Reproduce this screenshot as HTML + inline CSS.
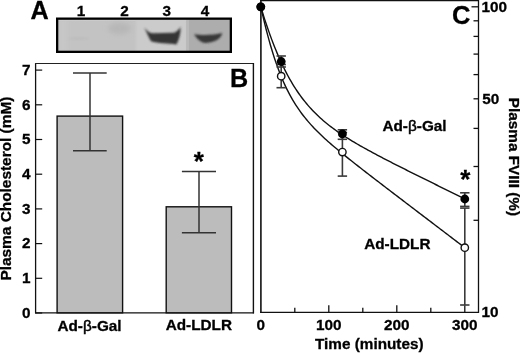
<!DOCTYPE html>
<html><head><meta charset="utf-8"><style>
html,body{margin:0;padding:0;background:#fff;}
body{width:520px;height:353px;overflow:hidden;font-family:"Liberation Sans",sans-serif;}
svg{display:block;will-change:transform;}
</style></head><body>
<svg width="520" height="353" viewBox="0 0 520 353">
<text x="30.6" y="18.5" font-family="Liberation Sans" font-weight="bold" stroke="#000" stroke-width="0.3" font-size="25.2">A</text>
<text x="81" y="16.1" font-family="Liberation Sans" font-weight="bold" stroke="#000" stroke-width="0.3" font-size="15.3" text-anchor="middle">1</text>
<text x="124.5" y="16.1" font-family="Liberation Sans" font-weight="bold" stroke="#000" stroke-width="0.3" font-size="15.3" text-anchor="middle">2</text>
<text x="166.7" y="16.1" font-family="Liberation Sans" font-weight="bold" stroke="#000" stroke-width="0.3" font-size="15.3" text-anchor="middle">3</text>
<text x="205" y="16.1" font-family="Liberation Sans" font-weight="bold" stroke="#000" stroke-width="0.3" font-size="15.3" text-anchor="middle">4</text>
<defs>
<filter id="bl1" x="-50%" y="-50%" width="200%" height="200%"><feGaussianBlur stdDeviation="0.9"/></filter>
<filter id="bl2" x="-50%" y="-50%" width="200%" height="200%"><feGaussianBlur stdDeviation="2.5"/></filter>
<clipPath id="blotclip"><rect x="57" y="19" width="174" height="33"/></clipPath>
</defs>
<g clip-path="url(#blotclip)">
<rect x="57" y="19" width="174" height="33" fill="#c3c3c3"/>
<rect x="59" y="19" width="8" height="33" fill="#c7c7c7" filter="url(#bl2)"/>
<rect x="57" y="19.5" width="130" height="1.4" fill="#cdcdcd"/>
<rect x="136" y="19" width="50.5" height="33" fill="#cbcbcb" filter="url(#bl1)"/>
<rect x="186.5" y="19" width="46" height="33" fill="#adadad"/>
<rect x="186.5" y="19" width="2.5" height="33" fill="#b9b9b9"/>
<ellipse cx="119.5" cy="28.5" rx="11.5" ry="6" fill="#b7b7b7" filter="url(#bl2)"/>
<ellipse cx="79" cy="38.5" rx="11" ry="1.2" fill="#bbbbbb" filter="url(#bl1)"/>
<path d="M144.3,27.7 C147,30.5 149,33 152.5,33.3 L174,32.8 C177,31.5 179,29.5 180.4,26.7 C181,32 179.5,38.5 176.5,44.5 C168,43.5 158,43.3 151,41.3 C148.5,37 146.5,32 144.3,27.7 Z" fill="#353535" filter="url(#bl1)"/>
<path d="M194,34.3 C202,35.6 214,35.3 222.3,33.1 C221.5,38.6 214.5,42.8 206,42.9 C200.5,42.8 197,39 194,34.3 Z" fill="#383838" filter="url(#bl1)"/>
</g>
<rect x="57.15" y="18.65" width="173.7" height="33.2" fill="none" stroke="#000" stroke-width="2.3"/>
<line x1="35.6" y1="63" x2="35.6" y2="313.4" stroke="#111" stroke-width="1.3"/>
<line x1="35" y1="63.5" x2="254" y2="63.5" stroke="#222" stroke-width="1.2"/>
<line x1="253.4" y1="63" x2="253.4" y2="313.4" stroke="#111" stroke-width="1.4"/>
<line x1="35" y1="312.8" x2="254" y2="312.8" stroke="#111" stroke-width="1.3"/>
<line x1="35.6" y1="313.0" x2="42.2" y2="313.0" stroke="#111" stroke-width="1.2"/>
<text x="30.6" y="317.8" font-family="Liberation Sans" font-weight="bold" stroke="#000" stroke-width="0.3" font-size="15.3" text-anchor="end">0</text>
<line x1="35.6" y1="278.3" x2="42.2" y2="278.3" stroke="#111" stroke-width="1.2"/>
<text x="30.6" y="283.1" font-family="Liberation Sans" font-weight="bold" stroke="#000" stroke-width="0.3" font-size="15.3" text-anchor="end">1</text>
<line x1="35.6" y1="243.6" x2="42.2" y2="243.6" stroke="#111" stroke-width="1.2"/>
<text x="30.6" y="248.4" font-family="Liberation Sans" font-weight="bold" stroke="#000" stroke-width="0.3" font-size="15.3" text-anchor="end">2</text>
<line x1="35.6" y1="208.9" x2="42.2" y2="208.9" stroke="#111" stroke-width="1.2"/>
<text x="30.6" y="213.7" font-family="Liberation Sans" font-weight="bold" stroke="#000" stroke-width="0.3" font-size="15.3" text-anchor="end">3</text>
<line x1="35.6" y1="174.2" x2="42.2" y2="174.2" stroke="#111" stroke-width="1.2"/>
<text x="30.6" y="179.0" font-family="Liberation Sans" font-weight="bold" stroke="#000" stroke-width="0.3" font-size="15.3" text-anchor="end">4</text>
<line x1="35.6" y1="139.5" x2="42.2" y2="139.5" stroke="#111" stroke-width="1.2"/>
<text x="30.6" y="144.3" font-family="Liberation Sans" font-weight="bold" stroke="#000" stroke-width="0.3" font-size="15.3" text-anchor="end">5</text>
<line x1="35.6" y1="104.8" x2="42.2" y2="104.8" stroke="#111" stroke-width="1.2"/>
<text x="30.6" y="109.6" font-family="Liberation Sans" font-weight="bold" stroke="#000" stroke-width="0.3" font-size="15.3" text-anchor="end">6</text>
<line x1="35.6" y1="70.1" x2="42.2" y2="70.1" stroke="#111" stroke-width="1.2"/>
<text x="30.6" y="74.9" font-family="Liberation Sans" font-weight="bold" stroke="#000" stroke-width="0.3" font-size="15.3" text-anchor="end">7</text>
<rect x="57.1" y="116.1" width="65.5" height="196.7" fill="#bcbcbc" stroke="#111" stroke-width="1.4"/>
<rect x="166.2" y="206.8" width="65.3" height="106.0" fill="#bcbcbc" stroke="#111" stroke-width="1.4"/>
<g stroke="#333" stroke-width="1.5" fill="none">
<line x1="90" y1="73.1" x2="90" y2="150.8"/><line x1="73" y1="73.1" x2="106.7" y2="73.1"/><line x1="73" y1="150.8" x2="106.7" y2="150.8"/>
<line x1="199" y1="171.6" x2="199" y2="232.8"/><line x1="181.9" y1="171.6" x2="216" y2="171.6"/><line x1="181.9" y1="232.8" x2="216" y2="232.8"/>
</g>
<text x="198.8" y="169.7" font-family="Liberation Sans" font-weight="bold" stroke="#000" stroke-width="0.3" font-size="26" text-anchor="middle">*</text>
<text x="230" y="87.4" font-family="Liberation Sans" font-weight="bold" stroke="#000" stroke-width="0.3" font-size="25.2">B</text>
<text x="89.5" y="330.8" font-family="Liberation Sans" font-weight="bold" stroke="#000" stroke-width="0.3" font-size="15.3" text-anchor="middle">Ad-<tspan font-weight="normal" stroke-width="0.5">β</tspan>-Gal</text>
<text x="198.8" y="329.6" font-family="Liberation Sans" font-weight="bold" stroke="#000" stroke-width="0.3" font-size="15.3" text-anchor="middle">Ad-LDLR</text>
<text transform="translate(11.1,188.6) rotate(-90)" font-family="Liberation Sans" font-weight="bold" stroke="#000" stroke-width="0.3" font-size="15.4" text-anchor="middle">Plasma Cholesterol (mM)</text>
<path d="M260.2,0.6 H478.5 V312.3 H260.2" fill="none" stroke="#111" stroke-width="1.3"/>
<line x1="260.9" y1="0" x2="260.9" y2="313" stroke="#111" stroke-width="1.6"/>
<line x1="294.8" y1="312.3" x2="294.8" y2="307.8" stroke="#111" stroke-width="1.3"/>
<line x1="328.8" y1="312.3" x2="328.8" y2="305.3" stroke="#111" stroke-width="1.3"/>
<line x1="362.8" y1="312.3" x2="362.8" y2="307.8" stroke="#111" stroke-width="1.3"/>
<line x1="396.8" y1="312.3" x2="396.8" y2="305.3" stroke="#111" stroke-width="1.3"/>
<line x1="430.8" y1="312.3" x2="430.8" y2="307.8" stroke="#111" stroke-width="1.3"/>
<line x1="464.8" y1="312.3" x2="464.8" y2="305.3" stroke="#111" stroke-width="1.3"/>
<text x="260.8" y="330" font-family="Liberation Sans" font-weight="bold" stroke="#000" stroke-width="0.3" font-size="15.3" text-anchor="middle">0</text>
<text x="328.8" y="330" font-family="Liberation Sans" font-weight="bold" stroke="#000" stroke-width="0.3" font-size="15.3" text-anchor="middle">100</text>
<text x="396.8" y="330" font-family="Liberation Sans" font-weight="bold" stroke="#000" stroke-width="0.3" font-size="15.3" text-anchor="middle">200</text>
<text x="464.8" y="330" font-family="Liberation Sans" font-weight="bold" stroke="#000" stroke-width="0.3" font-size="15.3" text-anchor="middle">300</text>
<text x="369.3" y="349" font-family="Liberation Sans" font-weight="bold" stroke="#000" stroke-width="0.3" font-size="15.3" text-anchor="middle">Time (minutes)</text>
<line x1="478.5" y1="220.3" x2="473.5" y2="220.3" stroke="#111" stroke-width="1.3"/>
<line x1="478.5" y1="166.5" x2="473.5" y2="166.5" stroke="#111" stroke-width="1.3"/>
<line x1="478.5" y1="128.4" x2="473.5" y2="128.4" stroke="#111" stroke-width="1.3"/>
<line x1="478.5" y1="98.8" x2="473.5" y2="98.8" stroke="#111" stroke-width="1.3"/>
<line x1="478.5" y1="74.6" x2="473.5" y2="74.6" stroke="#111" stroke-width="1.3"/>
<line x1="478.5" y1="54.1" x2="473.5" y2="54.1" stroke="#111" stroke-width="1.3"/>
<line x1="478.5" y1="36.4" x2="473.5" y2="36.4" stroke="#111" stroke-width="1.3"/>
<line x1="478.5" y1="20.8" x2="473.5" y2="20.8" stroke="#111" stroke-width="1.3"/>
<line x1="478.5" y1="6.8" x2="471.5" y2="6.8" stroke="#111" stroke-width="1.3"/>
<text x="481.5" y="11.9" font-family="Liberation Sans" font-weight="bold" stroke="#000" stroke-width="0.3" font-size="15.3">100</text>
<text x="482.2" y="104" font-family="Liberation Sans" font-weight="bold" stroke="#000" stroke-width="0.3" font-size="15.3">50</text>
<text x="481.5" y="317.2" font-family="Liberation Sans" font-weight="bold" stroke="#000" stroke-width="0.3" font-size="15.3">10</text>
<text transform="translate(509,156.9) rotate(90)" font-family="Liberation Sans" font-weight="bold" stroke="#000" stroke-width="0.3" font-size="15.3" text-anchor="middle">Plasma FVIII (%)</text>
<text x="452" y="24" font-family="Liberation Sans" font-weight="bold" stroke="#000" stroke-width="0.3" font-size="25.5">C</text>
<path d="M260.80,6.80 L262.16,11.26 L263.52,15.61 L264.88,19.84 L266.24,23.97 L267.60,27.98 L268.96,31.89 L270.32,35.69 L271.68,39.38 L273.04,42.97 L274.40,46.45 L275.76,49.83 L277.12,53.11 L278.48,56.29 L279.84,59.37 L281.20,62.36 L281.88,63.82 L283.42,67.03 L284.95,70.14 L286.49,73.13 L288.03,76.01 L289.57,78.79 L291.10,81.47 L292.64,84.05 L294.18,86.54 L295.71,88.95 L297.25,91.26 L298.79,93.50 L300.33,95.65 L301.86,97.73 L303.40,99.74 L304.94,101.68 L306.47,103.55 L308.01,105.36 L309.55,107.12 L311.09,108.81 L312.62,110.45 L314.16,112.04 L315.70,113.59 L317.23,115.08 L318.77,116.54 L320.31,117.95 L321.85,119.32 L323.38,120.66 L324.92,121.96 L326.46,123.23 L327.99,124.47 L329.53,125.68 L331.07,126.86 L332.61,128.02 L334.14,129.15 L335.68,130.26 L337.22,131.35 L338.75,132.42 L340.29,133.46 L341.83,134.49 L343.37,135.50 L344.90,136.50 L346.44,137.48 L347.98,138.45 L349.51,139.40 L351.05,140.35 L352.59,141.28 L354.13,142.19 L355.66,143.10 L357.20,144.00 L358.74,144.89 L360.27,145.77 L361.81,146.65 L363.35,147.51 L364.89,148.37 L366.42,149.22 L367.96,150.07 L369.50,150.91 L371.03,151.74 L372.57,152.57 L374.11,153.40 L375.65,154.22 L377.18,155.03 L378.72,155.84 L380.26,156.65 L381.79,157.46 L383.33,158.26 L384.87,159.06 L386.41,159.85 L387.94,160.64 L389.48,161.43 L391.02,162.22 L392.55,163.01 L394.09,163.79 L395.63,164.57 L397.17,165.35 L398.70,166.13 L400.24,166.91 L401.78,167.68 L403.31,168.46 L404.85,169.23 L406.39,170.00 L407.93,170.77 L409.46,171.54 L411.00,172.31 L412.54,173.07 L414.07,173.84 L415.61,174.60 L417.15,175.37 L418.69,176.13 L420.22,176.90 L421.76,177.66 L423.30,178.42 L424.83,179.18 L426.37,179.94 L427.91,180.70 L429.45,181.46 L430.98,182.22 L432.52,182.98 L434.06,183.74 L435.59,184.50 L437.13,185.25 L438.67,186.01 L440.21,186.77 L441.74,187.53 L443.28,188.28 L444.82,189.04 L446.35,189.80 L447.89,190.55 L449.43,191.31 L450.97,192.06 L452.50,192.82 L454.04,193.57 L455.58,194.33 L457.11,195.08 L458.65,195.84 L460.19,196.59 L461.73,197.35 L463.26,198.10 L464.80,198.86" fill="none" stroke="#111" stroke-width="1.4"/>
<path d="M260.80,6.80 L262.16,12.86 L263.52,18.70 L264.88,24.32 L266.24,29.73 L267.60,34.93 L268.96,39.93 L270.32,44.72 L271.68,49.32 L273.04,53.72 L274.40,57.94 L275.76,61.98 L277.12,65.85 L278.48,69.55 L279.84,73.09 L281.20,76.48 L281.88,78.12 L283.42,81.69 L284.95,85.09 L286.49,88.33 L288.03,91.42 L289.57,94.36 L291.10,97.16 L292.64,99.84 L294.18,102.41 L295.71,104.86 L297.25,107.21 L298.79,109.47 L300.33,111.64 L301.86,113.73 L303.40,115.74 L304.94,117.68 L306.47,119.56 L308.01,121.39 L309.55,123.15 L311.09,124.87 L312.62,126.54 L314.16,128.17 L315.70,129.76 L317.23,131.31 L318.77,132.83 L320.31,134.32 L321.85,135.78 L323.38,137.22 L324.92,138.64 L326.46,140.03 L327.99,141.41 L329.53,142.76 L331.07,144.10 L332.61,145.43 L334.14,146.74 L335.68,148.04 L337.22,149.33 L338.75,150.61 L340.29,151.88 L341.83,153.14 L343.37,154.39 L344.90,155.63 L346.44,156.87 L347.98,158.11 L349.51,159.33 L351.05,160.56 L352.59,161.77 L354.13,162.99 L355.66,164.20 L357.20,165.40 L358.74,166.61 L360.27,167.81 L361.81,169.00 L363.35,170.20 L364.89,171.39 L366.42,172.58 L367.96,173.77 L369.50,174.96 L371.03,176.14 L372.57,177.33 L374.11,178.51 L375.65,179.69 L377.18,180.87 L378.72,182.05 L380.26,183.23 L381.79,184.41 L383.33,185.59 L384.87,186.77 L386.41,187.94 L387.94,189.12 L389.48,190.29 L391.02,191.47 L392.55,192.64 L394.09,193.82 L395.63,194.99 L397.17,196.16 L398.70,197.34 L400.24,198.51 L401.78,199.68 L403.31,200.85 L404.85,202.03 L406.39,203.20 L407.93,204.37 L409.46,205.54 L411.00,206.71 L412.54,207.88 L414.07,209.06 L415.61,210.23 L417.15,211.40 L418.69,212.57 L420.22,213.74 L421.76,214.91 L423.30,216.08 L424.83,217.25 L426.37,218.42 L427.91,219.59 L429.45,220.76 L430.98,221.93 L432.52,223.10 L434.06,224.27 L435.59,225.44 L437.13,226.62 L438.67,227.79 L440.21,228.96 L441.74,230.13 L443.28,231.30 L444.82,232.47 L446.35,233.64 L447.89,234.81 L449.43,235.98 L450.97,237.15 L452.50,238.32 L454.04,239.49 L455.58,240.66 L457.11,241.83 L458.65,243.00 L460.19,244.17 L461.73,245.34 L463.26,246.51 L464.80,247.68" fill="none" stroke="#111" stroke-width="1.4"/>
<g stroke="#3a3a3a" stroke-width="1.6" fill="none">
<line x1="281.2" y1="56" x2="281.2" y2="67"/>
<line x1="276.5" y1="56" x2="285.9" y2="56"/>
<line x1="276.5" y1="67" x2="285.9" y2="67"/>
<line x1="281.2" y1="64.5" x2="281.2" y2="87.7"/>
<line x1="276.5" y1="64.5" x2="285.9" y2="64.5"/>
<line x1="276.5" y1="87.7" x2="285.9" y2="87.7"/>
<line x1="342.4" y1="129.8" x2="342.4" y2="139.3"/>
<line x1="337.7" y1="129.8" x2="347.1" y2="129.8"/>
<line x1="337.7" y1="139.3" x2="347.1" y2="139.3"/>
<line x1="342.4" y1="132.5" x2="342.4" y2="176.1"/>
<line x1="337.7" y1="132.5" x2="347.1" y2="132.5"/>
<line x1="337.7" y1="176.1" x2="347.1" y2="176.1"/>
<line x1="464.8" y1="192.8" x2="464.8" y2="206.4"/>
<line x1="460.1" y1="192.8" x2="469.5" y2="192.8"/>
<line x1="460.1" y1="206.4" x2="469.5" y2="206.4"/>
<line x1="464.8" y1="208.1" x2="464.8" y2="305"/>
<line x1="460.1" y1="208.1" x2="469.5" y2="208.1"/>
<line x1="460.1" y1="305" x2="469.5" y2="305"/>
</g>
<circle cx="260.8" cy="6.8" r="3.7" fill="#fff" stroke="#111" stroke-width="1.4"/>
<circle cx="281.2" cy="76.2" r="3.7" fill="#fff" stroke="#111" stroke-width="1.4"/>
<circle cx="342.4" cy="152.1" r="3.7" fill="#fff" stroke="#111" stroke-width="1.4"/>
<circle cx="464.8" cy="247.7" r="3.7" fill="#fff" stroke="#111" stroke-width="1.4"/>
<circle cx="260.8" cy="6.8" r="4.4" fill="#000"/>
<circle cx="281.2" cy="61.5" r="4.4" fill="#000"/>
<circle cx="342.4" cy="133.9" r="4.4" fill="#000"/>
<circle cx="464.8" cy="199.0" r="4.4" fill="#000"/>
<text x="414.5" y="130.8" font-family="Liberation Sans" font-weight="bold" stroke="#000" stroke-width="0.3" font-size="15.3" text-anchor="middle">Ad-<tspan font-weight="normal" stroke-width="0.5">β</tspan>-Gal</text>
<text x="397.3" y="248.7" font-family="Liberation Sans" font-weight="bold" stroke="#000" stroke-width="0.3" font-size="15.3" text-anchor="middle">Ad-LDLR</text>
<text x="465.3" y="187.7" font-family="Liberation Sans" font-weight="bold" stroke="#000" stroke-width="0.3" font-size="26" text-anchor="middle">*</text>
</svg>
</body></html>
